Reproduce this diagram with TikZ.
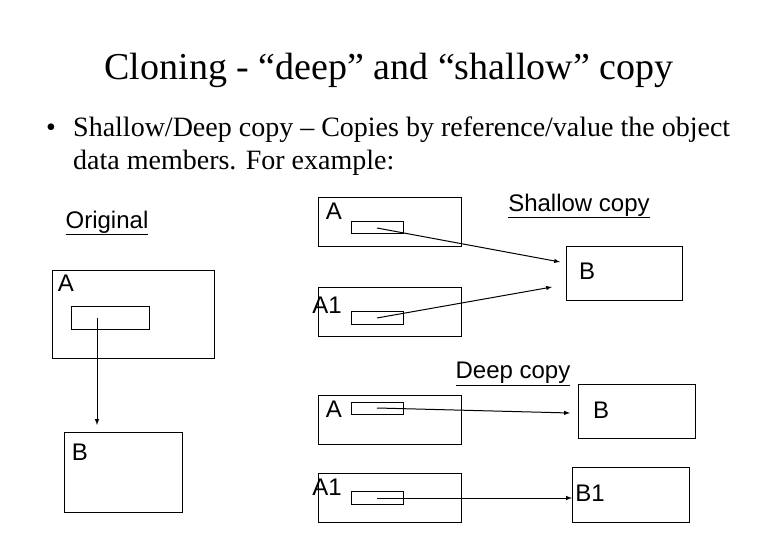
\documentclass[tikz,border=0pt]{standalone}
\usepackage{fontspec}
\setmainfont{Liberation Serif}
\setsansfont{Liberation Sans}
\begin{document}
\begin{tikzpicture}[x=1pt,y=-1pt,
  box/.style={draw,line width=1.2pt,inner sep=0pt,anchor=north west},
  lab/.style={font=\sffamily\fontsize{24}{26}\selectfont,inner sep=0pt},
  arr/.style={-latex,line width=1pt}]
\useasboundingbox (0,0) rectangle (780,540);
\node[font=\fontsize{38}{42}\selectfont] (title) at (389,70) {Cloning - “deep” and “shallow” copy};
\node[font=\fontsize{28}{33}\selectfont,anchor=west,inner sep=0pt] (bul) at (46,130) {•};
\node[font=\fontsize{28}{33}\selectfont,anchor=west,inner sep=0pt] (t1) at (73,130) {Shallow/Deep copy – Copies by reference/value the object};
\node[font=\fontsize{28}{33}\selectfont,anchor=west,inner sep=0pt] (t2) at (73,163) {data members. For example:};
\node[lab] (orig) at (107,223) {\underline{Original}};
% original
\node[box,minimum width=162pt,minimum height=88pt] (oA) at (52,270) {};
\node[lab] (oAl) at (66,283) {A};
\node[box,minimum width=78pt,minimum height=23pt] (oAi) at (71,306) {};
\node[box,minimum width=118pt,minimum height=80pt] (oB) at (64,432) {};
\node[lab] (oBl) at (80,452) {B};
\coordinate (oAs) at (97,318);
\draw[arr] (oAs) -- (97,425);
% shallow
\node[lab] (sh) at (579,206) {\underline{Shallow copy}};
\node[box,minimum width=143pt,minimum height=49pt] (sA) at (318,197) {};
\node[lab] (sAl) at (334,211) {A};
\node[box,minimum width=52pt,minimum height=12pt] (sAi) at (351,221) {};
\node[box,minimum width=116pt,minimum height=54pt] (sB) at (566,246) {};
\node[lab] (sBl) at (587,271) {B};
\node[box,minimum width=143pt,minimum height=49pt] (sA1) at (318,287) {};
\node[lab] (sA1l) at (327,305) {A1};
\node[box,minimum width=52pt,minimum height=13pt] (sA1i) at (351,311) {};
\coordinate (s1) at (377,228);
\coordinate (s1e) at (560,262);
\coordinate (s2) at (377,318);
\coordinate (s2e) at (552,287);
\draw[arr] (s1) -- (s1e);
\draw[arr] (s2) -- (s2e);
% deep
\node[lab] (dp) at (513,374) {\underline{Deep copy}};
\node[box,minimum width=143pt,minimum height=49pt] (dA) at (318,395) {};
\node[lab] (dAl) at (334,409) {A};
\node[box,minimum width=52pt,minimum height=12pt] (dAi) at (351,402) {};
\node[box,minimum width=117pt,minimum height=54pt] (dB) at (578,384) {};
\node[lab] (dBl) at (601,410) {B};
\node[box,minimum width=143pt,minimum height=49pt] (dA1) at (318,473) {};
\node[lab] (dA1l) at (327,487) {A1};
\node[box,minimum width=52pt,minimum height=13pt] (dA1i) at (351,491) {};
\node[box,minimum width=117pt,minimum height=55pt] (dB1) at (572,467) {};
\node[lab] (dB1l) at (590,493) {B1};
\coordinate (d1) at (377,408);
\coordinate (d1e) at (570,413);
\coordinate (d2) at (377,498);
\draw[arr] (d1) -- (d1e);
\draw[arr] (d2) -- (dB1.west |- d2);
\end{tikzpicture}
\end{document}
